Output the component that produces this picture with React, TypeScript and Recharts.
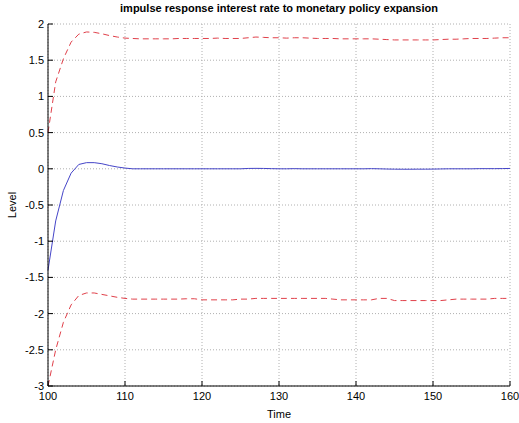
import { LineChart, Line, XAxis, YAxis, CartesianGrid, Label } from "recharts";

const periods = Array.from({ length: 61 }, (_, i) => 100 + i);

const upperBand = [
  0.5, 1.2, 1.52, 1.75, 1.86, 1.89, 1.885, 1.865, 1.84, 1.82,
  1.805, 1.8, 1.795, 1.795, 1.795, 1.795, 1.795, 1.8, 1.8, 1.8,
  1.8, 1.8, 1.805, 1.8, 1.8, 1.8, 1.81, 1.82, 1.815, 1.81,
  1.81, 1.805, 1.81, 1.81, 1.805, 1.8, 1.8, 1.8, 1.795, 1.795,
  1.795, 1.795, 1.795, 1.79, 1.785, 1.78, 1.78, 1.78, 1.78, 1.78,
  1.78, 1.785, 1.79, 1.79, 1.795, 1.8, 1.8, 1.8, 1.805, 1.81,
  1.81,
];

const response = [
  -1.4, -0.72, -0.3, -0.06, 0.06, 0.085, 0.085, 0.07, 0.045, 0.025,
  0.01, 0.0, 0.0, 0.0, 0.0, 0.0, 0.0, 0.0, 0.0, 0.0,
  0.0, 0.0, 0.0, 0.0, 0.0, 0.0, 0.005, 0.006, 0.005, 0.002,
  0.0, 0.0, 0.002, 0.0, 0.0, 0.0, 0.0, 0.0, 0.0, 0.0,
  0.0, 0.0, 0.002, 0.0, -0.003, -0.005, -0.006, -0.006, -0.005, -0.005,
  -0.004, -0.002, 0.0, 0.0, 0.0, 0.0, 0.002, 0.002, 0.002, 0.003,
  0.005,
];

const lowerBand = [
  -3.0, -2.5, -2.12, -1.88, -1.75, -1.715, -1.715, -1.735, -1.755, -1.775,
  -1.79, -1.8, -1.8, -1.8, -1.8, -1.8, -1.8, -1.8, -1.795, -1.795,
  -1.81, -1.81, -1.81, -1.81, -1.81, -1.8, -1.8, -1.79, -1.79, -1.79,
  -1.79, -1.79, -1.79, -1.79, -1.79, -1.79, -1.79, -1.8, -1.81, -1.81,
  -1.81, -1.81, -1.81, -1.79, -1.79, -1.82, -1.82, -1.82, -1.82, -1.82,
  -1.82, -1.82, -1.81, -1.8, -1.8, -1.8, -1.8, -1.8, -1.79, -1.79,
  -1.79,
];

const xTicks = [100, 110, 120, 130, 140, 150, 160];
const yTicks = [-3, -2.5, -2, -1.5, -1, -0.5, 0, 0.5, 1, 1.5, 2];

const data = periods.map((t, i) => ({
  t,
  upper: upperBand[i],
  mid: response[i],
  lower: lowerBand[i],
}));

const FONT = "'Liberation Sans', Arial, sans-serif";
const tickStyle = { fill: "#000", fontSize: 11, fontFamily: FONT };

export default function App() {
  return (
    <div style={{ position: "absolute", left: 0, top: 0, width: 519, height: 423, background: "#fff" }}>
      <div style={{ position: "absolute", top: 2, left: 48, width: 462, textAlign: "center",
        fontFamily: FONT, fontSize: 11, fontWeight: 700, color: "#000" }}>
        impulse response interest rate to monetary policy expansion
      </div>
      <LineChart width={519} height={423} data={data}
        margin={{ top: 24, right: 9, bottom: 0, left: 0 }}>
        <CartesianGrid stroke="#b0b0b0" strokeDasharray="1 2"
          horizontalValues={yTicks} verticalValues={xTicks} />
        <XAxis dataKey="t" type="number" domain={[100, 160]} ticks={xTicks}
          height={37} tick={tickStyle} tickSize={-5} tickMargin={11}
          axisLine={{ stroke: "#000" }} tickLine={{ stroke: "#000" }}>
          <Label value="Time" position="insideBottom" offset={5}
            style={{ fill: "#000", fontSize: 11, fontFamily: FONT }} />
        </XAxis>
        <YAxis type="number" domain={[-3, 2]} ticks={yTicks} width={48}
          tick={tickStyle} tickSize={-5} tickMargin={9}
          axisLine={{ stroke: "#000" }} tickLine={{ stroke: "#000" }}>
          <Label value="Level" angle={-90} position="insideLeft" offset={12}
            style={{ fill: "#000", fontSize: 11, fontFamily: FONT, textAnchor: "middle" }} />
        </YAxis>
        <Line type="linear" dataKey="upper" stroke="#e0404a" strokeWidth={1}
          strokeDasharray="6 4" dot={false} isAnimationActive={false} />
        <Line type="linear" dataKey="mid" stroke="#4545c8" strokeWidth={1}
          dot={false} isAnimationActive={false} />
        <Line type="linear" dataKey="lower" stroke="#e0404a" strokeWidth={1}
          strokeDasharray="6 4" dot={false} isAnimationActive={false} />
      </LineChart>
    </div>
  );
}
